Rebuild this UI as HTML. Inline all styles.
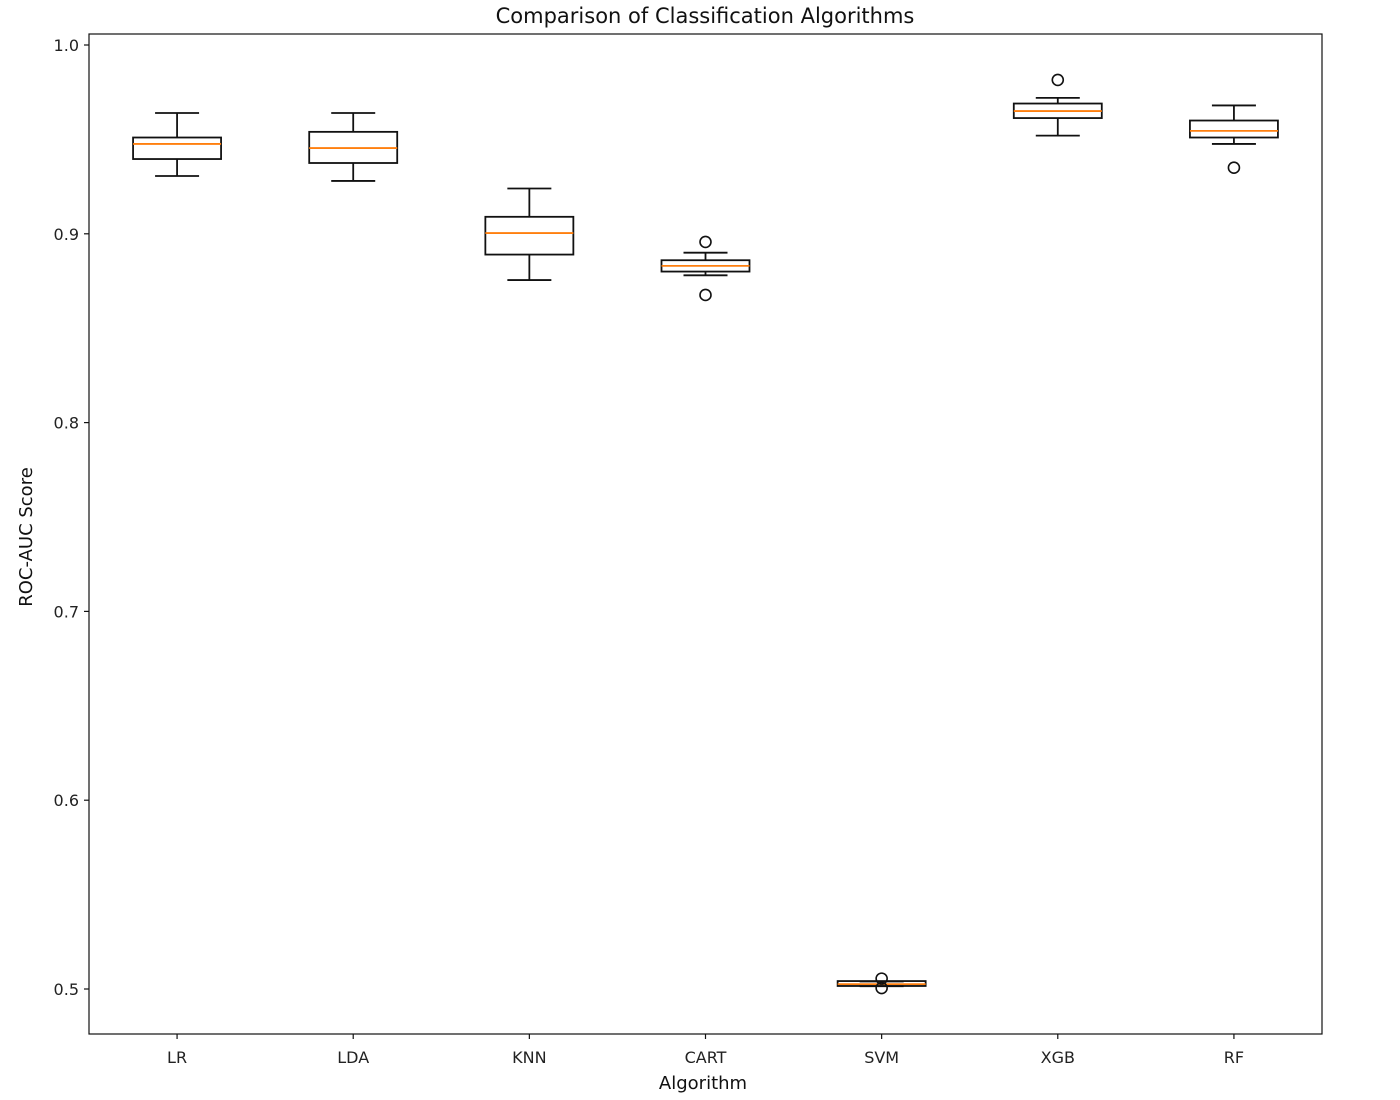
<!DOCTYPE html>
<html><head><meta charset="utf-8"><style>
html,body{margin:0;padding:0;background:#fff;}
svg{display:block;font-family:"DejaVu Sans","Liberation Sans",sans-serif;}
</style></head><body>
<svg id="chart" width="1400" height="1100">
<rect x="0" y="0" width="1400" height="1100" fill="#fff"/>
<text x="705" y="23" text-anchor="middle" font-size="21" fill="#111">Comparison of Classification Algorithms</text>
<g id="plot"></g>
<rect x="89" y="34" width="1233" height="1000" fill="none" stroke="#111" stroke-width="1.2"/>
<text x="703" y="1089" text-anchor="middle" font-size="18" fill="#111">Algorithm</text>
<text transform="translate(32,537) rotate(-90)" text-anchor="middle" font-size="18" fill="#111">ROC-AUC Score</text>
</svg>
<script>
const categories = ["LR","LDA","KNN","CART","SVM","XGB","RF"];
const whiskerLow = [0.9306,0.928,0.8755,0.878,0.5015,0.952,0.9476];
const q1Values = [0.9396,0.9375,0.889,0.880,0.5016,0.9613,0.951];
const medians = [0.9476,0.9454,0.9004,0.883,0.5026,0.965,0.9545];
const q3Values = [0.951,0.954,0.909,0.886,0.5042,0.969,0.960];
const whiskerHigh = [0.964,0.964,0.924,0.890,0.504,0.972,0.968];
const fliers = [[],[],[],[0.8957,0.8676],[0.5055,0.5005],[0.9815],[0.935]];
const yTicks = [0.5,0.6,0.7,0.8,0.9,1.0];
const yTickLabels = ["0.5","0.6","0.7","0.8","0.9","1.0"];

const NS="http://www.w3.org/2000/svg";
const g=document.getElementById('plot');
function yScale(v){return 45+(1-v)*1888;}
function xScale(i){return 89+1233*(i+0.5)/categories.length;}
function mk(tag,attrs,parent){const e=document.createElementNS(NS,tag);for(const k in attrs)e.setAttribute(k,attrs[k]);(parent||g).appendChild(e);return e;}
yTicks.forEach((t,i)=>{
  const y=yScale(t);
  const tk=mk('line',{x1:84,x2:89,y1:y,y2:y,stroke:'#111','stroke-width':1.2});
  
  
  const tx=mk('text',{x:79,y:y+6,'text-anchor':'end','font-size':16,fill:'#222'});
  tx.textContent=yTickLabels[i];
  
  
});
categories.forEach((c,i)=>{
  const x=xScale(i);
  const tk=mk('line',{x1:x,x2:x,y1:1034,y2:1039,stroke:'#111','stroke-width':1.2});
  
  
  const tx=mk('text',{x:x,y:1063,'text-anchor':'middle','font-size':16,fill:'#222'});
  tx.textContent=c;
  
  
  const bg=mk('g',{});
  
  
  const hw=44, cw=22, st={stroke:'#111','stroke-width':1.8,fill:'none'};
  mk('line',Object.assign({x1:x,x2:x,y1:yScale(whiskerHigh[i]),y2:yScale(q3Values[i])},st),bg);
  mk('line',Object.assign({x1:x,x2:x,y1:yScale(q1Values[i]),y2:yScale(whiskerLow[i])},st),bg);
  mk('line',Object.assign({x1:x-cw,x2:x+cw,y1:yScale(whiskerHigh[i]),y2:yScale(whiskerHigh[i])},st),bg);
  mk('line',Object.assign({x1:x-cw,x2:x+cw,y1:yScale(whiskerLow[i]),y2:yScale(whiskerLow[i])},st),bg);
  mk('rect',Object.assign({x:x-hw,y:yScale(q3Values[i]),width:2*hw,height:Math.max(1,yScale(q1Values[i])-yScale(q3Values[i]))},st),bg);
  mk('line',{x1:x-hw,x2:x+hw,y1:yScale(medians[i]),y2:yScale(medians[i]),stroke:'#ff7f0e','stroke-width':1.8},bg);
  fliers[i].forEach(f=>{
    const c2=mk('circle',{cx:x,cy:yScale(f),r:5.5,fill:'none',stroke:'#111','stroke-width':1.6},bg);
    
    
  });
});
</script>
</body></html>
